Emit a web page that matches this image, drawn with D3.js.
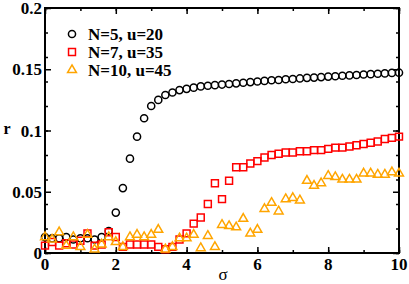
<!DOCTYPE html>
<html>
<head>
<meta charset="utf-8">
<script src="https://cdn.jsdelivr.net/npm/d3@7"></script>
<style>
  body { margin: 0; background: #fff; }
  svg { display: block; }
</style>
</head>
<body>
<div id="chart"></div>
<script>
// データ
const sigma = [0, 0.2, 0.4, 0.6, 0.8, 1.0, 1.2, 1.4, 1.6, 1.8,
  2.0, 2.2, 2.4, 2.6, 2.8, 3.0, 3.2, 3.4, 3.6, 3.8,
  4.0, 4.2, 4.4, 4.6, 4.8, 5.0, 5.2, 5.4, 5.6, 5.8,
  6.0, 6.2, 6.4, 6.6, 6.8, 7.0, 7.2, 7.4, 7.6, 7.8,
  8.0, 8.2, 8.4, 8.6, 8.8, 9.0, 9.2, 9.4, 9.6, 9.8, 10.0];

// N=5, u=20
const rN5 = [0.013, 0.012, 0.012, 0.013, 0.011, 0.012, 0.012, 0.011, 0.013, 0.018,
  0.033, 0.053, 0.077, 0.095, 0.110, 0.120, 0.125, 0.129, 0.131, 0.133,
  0.134, 0.135, 0.136, 0.1365, 0.137, 0.1375, 0.138, 0.1385, 0.139, 0.1395,
  0.140, 0.1405, 0.141, 0.1412, 0.1418, 0.142, 0.1425, 0.143, 0.1432, 0.1436,
  0.144, 0.1443, 0.1447, 0.145, 0.1453, 0.1457, 0.146, 0.1463, 0.1466, 0.147, 0.1472];

// N=7, u=35
const rN7 = [0.006, 0.009, 0.006, 0.008, 0.007, 0.010, 0.016, 0.006, 0.007, 0.017,
  0.013, 0.005, 0.007, 0.007, 0.007, 0.007, 0.005, 0.003, 0.005, 0.011,
  0.016, 0.024, 0.029, 0.040, 0.057, 0.044, 0.059, 0.070, 0.070, 0.073,
  0.075, 0.078, 0.080, 0.081, 0.082, 0.082, 0.083, 0.083, 0.084, 0.084,
  0.085, 0.086, 0.086, 0.087, 0.088, 0.089, 0.090, 0.091, 0.093, 0.094, 0.095];

// N=10, u=45
const rN10 = [0.013, 0.011, 0.017, 0.006, 0.013, 0.005, 0.015, 0.003, 0.007, 0.013,
  0.009, 0.005, 0.013, 0.015, 0.013, 0.015, 0.019, 0.003, 0.005, 0.012,
  0.012, 0.015, 0.004, 0.014, 0.005, 0.023, 0.022, 0.021, 0.028, 0.016,
  0.019, 0.036, 0.041, 0.034, 0.044, 0.045, 0.043, 0.059, 0.055, 0.057,
  0.063, 0.062, 0.060, 0.060, 0.060, 0.065, 0.065, 0.064, 0.064, 0.066, 0.065];

const seriesNames = ["N=5, u=20", "N=7, u=35", "N=10, u=45"];
const xTicks = [0, 2, 4, 6, 8, 10];
const yTicks = [0, 0.05, 0.1, 0.15, 0.2];
const yTickLabels = ["0", "0.05", "0.1", "0.15", "0.2"];

const width = 409;
const height = 284;
const font = "'Liberation Serif', 'Times New Roman', serif";

const svg = d3.select("#chart").append("svg")
  .attr("width", width)
  .attr("height", height);

//座標の範囲
const xScale = d3.scaleLinear().domain([0, 10]).range([45, 399]);
const yScale = d3.scaleLinear().domain([0, 0.2]).range([253, 8]);

//目盛り（内向き）下と上
svg.append("g")
  .attr("transform", "translate(0,253)")
  .call(d3.axisBottom(xScale).ticks(10).tickSize(-3).tickFormat(""));
svg.append("g")
  .attr("transform", "translate(0,253)")
  .call(d3.axisBottom(xScale).tickValues(xTicks).tickSize(-6).tickFormat(""));
svg.append("g")
  .attr("transform", "translate(0,8)")
  .call(d3.axisTop(xScale).ticks(10).tickSize(-3).tickFormat(""));
svg.append("g")
  .attr("transform", "translate(0,8)")
  .call(d3.axisTop(xScale).tickValues(xTicks).tickSize(-6).tickFormat(""));

//目盛り 左と右
svg.append("g")
  .attr("transform", "translate(45,0)")
  .call(d3.axisLeft(yScale).ticks(8).tickSize(-3).tickFormat(""));
svg.append("g")
  .attr("transform", "translate(45,0)")
  .call(d3.axisLeft(yScale).tickValues(yTicks).tickSize(-6).tickFormat(""));
svg.append("g")
  .attr("transform", "translate(399,0)")
  .call(d3.axisRight(yScale).ticks(8).tickSize(-3).tickFormat(""));
svg.append("g")
  .attr("transform", "translate(399,0)")
  .call(d3.axisRight(yScale).tickValues(yTicks).tickSize(-6).tickFormat(""));

svg.selectAll(".domain").remove();
svg.selectAll(".tick line").attr("stroke", "#000").attr("stroke-width", 1.5);

//枠
svg.append("rect")
  .attr("x", 45).attr("y", 8)
  .attr("width", 354).attr("height", 245)
  .attr("fill", "none")
  .attr("stroke", "#000")
  .attr("stroke-width", 2);

//目盛りの数字
svg.append("g")
  .selectAll("text")
  .data(xTicks)
  .enter()
  .append("text")
  .attr("x", function (d) { return xScale(d); })
  .attr("y", 270)
  .attr("text-anchor", "middle")
  .attr("font-family", font)
  .attr("font-weight", "bold")
  .attr("font-size", 17)
  .text(function (d) { return d; });

svg.append("g")
  .selectAll("text")
  .data(yTicks)
  .enter()
  .append("text")
  .attr("x", 42)
  .attr("y", function (d) { return yScale(d) + 6; })
  .attr("text-anchor", "end")
  .attr("font-family", font)
  .attr("font-weight", "bold")
  .attr("font-size", 17)
  .text(function (d, i) { return yTickLabels[i]; });

//軸ラベル
svg.append("text")
  .attr("x", 223).attr("y", 280)
  .attr("text-anchor", "middle")
  .attr("font-family", font)
  .attr("font-size", 17)
  .text("σ");

svg.append("text")
  .attr("x", 7).attr("y", 134)
  .attr("text-anchor", "middle")
  .attr("font-family", font)
  .attr("font-weight", "bold")
  .attr("font-size", 16)
  .text("r");

//点
const series = [
  { values: rN5, shape: d3.symbolCircle, size: 40, color: "#000000" },
  { values: rN7, shape: d3.symbolSquare, size: 48, color: "#ff0000" },
  { values: rN10, shape: d3.symbolTriangle, size: 34, color: "#ffa500" }
];

series.forEach(function (s) {
  svg.append("g")
    .selectAll("path")
    .data(s.values)
    .enter()
    .append("path")
    .attr("transform", function (d, i) {
      return "translate(" + xScale(sigma[i]) + "," + yScale(d) + ")";
    })
    .attr("d", d3.symbol().type(s.shape).size(s.size))
    .attr("fill", "none")
    .attr("stroke", s.color)
    .attr("stroke-width", 1.5);
});

//凡例
const legend = svg.append("g");
series.forEach(function (s, i) {
  const ly = 34 + i * 18;
  legend.append("path")
    .attr("transform", "translate(72," + ly + ")")
    .attr("d", d3.symbol().type(s.shape).size(s.size))
    .attr("fill", "none")
    .attr("stroke", s.color)
    .attr("stroke-width", 1.5);
  legend.append("text")
    .attr("x", 88)
    .attr("y", ly + 6)
    .attr("font-family", font)
    .attr("font-weight", "bold")
    .attr("font-size", 17)
    .text(seriesNames[i]);
});
</script>
</body>
</html>
